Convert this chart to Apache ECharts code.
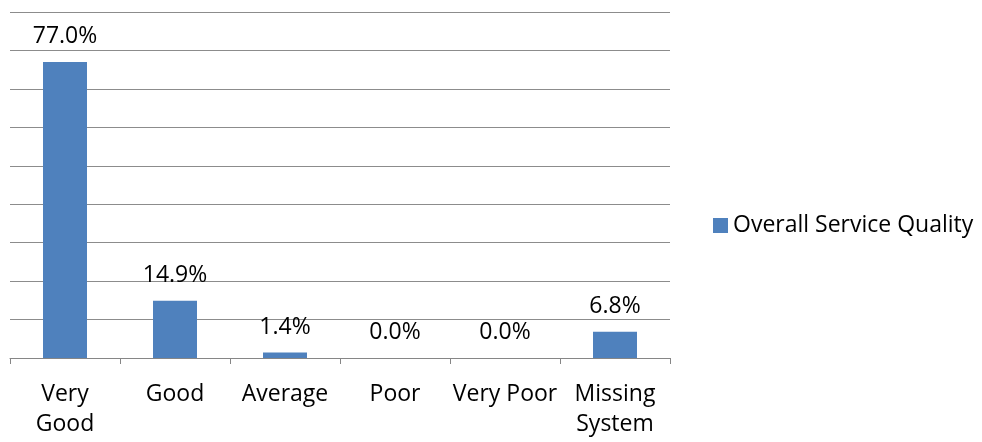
<!DOCTYPE html>
<html>
<head>
<meta charset="utf-8">
<script src="https://cdn.jsdelivr.net/npm/echarts@6/dist/echarts.min.js"></script>
<style>
  html, body { margin: 0; padding: 0; background: #fff; }
  #chart { width: 982px; height: 442px; }
</style>
</head>
<body>
<div id="chart"></div>
<script>
var categories = ["Very\nGood", "Good", "Average", "Poor", "Very Poor", "Missing\nSystem"];
var values = [77.0, 14.9, 1.4, 0.0, 0.0, 6.8];
var seriesName = "Overall Service Quality";

var myChart = echarts.init(document.getElementById("chart"));
var font = "'Open Sans', sans-serif";
var option = {
  animation: false,
  grid: {
    left: 10,
    right: 312,
    top: 12,
    bottom: 84,
  },
  legend: {
    orient: "vertical",
    left: 708,
    top: 209,
    itemWidth: 15,
    itemHeight: 15,
    itemGap: 6,
    icon: "rect",
    textStyle: {
      fontFamily: font,
      fontSize: 23,
      color: "#000",
    },
    data: [seriesName],
  },
  xAxis: {
    type: "category",
    data: categories,
    axisLine: {
      lineStyle: { color: "#868686", width: 1 },
    },
    axisTick: {
      show: true,
      length: 6,
      lineStyle: { color: "#868686" },
    },
    axisLabel: {
      interval: 0,
      margin: 21,
      fontFamily: font,
      fontSize: 23,
      lineHeight: 30,
      color: "#000",
    },
  },
  yAxis: {
    type: "value",
    min: 0,
    max: 90,
    interval: 10,
    axisLabel: { show: false },
    axisLine: { show: false },
    axisTick: { show: false },
    splitLine: {
      lineStyle: { color: "#8c8c8c", width: 1 },
    },
  },
  series: [
    {
      name: seriesName,
      type: "bar",
      data: values,
      barWidth: "40%",
      itemStyle: { color: "#4F81BD" },
      label: {
        show: true,
        position: "top",
        distance: 14,
        fontFamily: font,
        fontSize: 23,
        color: "#000",
        formatter: function (p) {
          return p.value.toFixed(1) + "%";
        },
      },
    },
  ],
};
myChart.setOption(option);
</script>
</body>
</html>
